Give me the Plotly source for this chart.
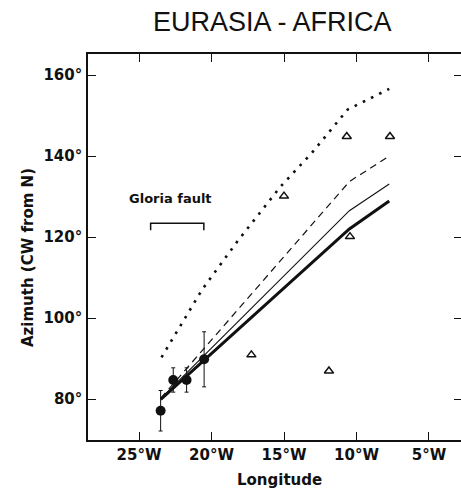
import plotly.graph_objects as go

# ---- data (longitude as negative = degrees West) ----
obs_lon = [-23.51, -22.64, -21.72, -20.51]
obs_az = [77.1, 84.7, 84.7, 89.8]
obs_err = [5.0, 3.0, 3.0, 6.8]

tri_lon = [-10.67, -7.69, -15.0, -10.45, -17.25, -11.9]
tri_az = [144.8, 144.8, 130.1, 120.1, 90.9, 86.9]

thick_lon = [-23.5, -10.49, -7.74]
thick_az = [79.9, 122.0, 128.9]

thin_lon = [-23.5, -10.49, -7.74]
thin_az = [80.1, 126.5, 133.1]

dash_lon = [-23.5, -10.49, -7.74]
dash_az = [80.2, 133.7, 140.0]

dot_lon = [-23.45, -20.65, -18.2, -15.25, -13.1, -10.6, -9.18, -7.74]
dot_az = [90.3, 107.0, 119.0, 132.4, 140.7, 151.5, 154.0, 156.6]

gloria_lon = [-24.2, -24.2, -20.53, -20.53]
gloria_az = [121.7, 123.4, 123.4, 121.7]

x_ticks = [-25, -20, -15, -10, -5]
x_labels = ["25°W", "20°W", "15°W", "10°W", "5°W"]
y_ticks = [80, 100, 120, 140, 160]
y_labels = ["80°", "100°", "120°", "140°", "160°"]

INK = "#111111"
FONT = "DejaVu Sans"

fig = go.Figure()

fig.add_trace(go.Scatter(x=dot_lon, y=dot_az, mode="lines",
                         line=dict(color=INK, width=2.6, dash="2.6px,6.5px"),
                         showlegend=False, hoverinfo="skip"))
fig.add_trace(go.Scatter(x=dash_lon, y=dash_az, mode="lines",
                         line=dict(color=INK, width=1.2, dash="7px,5px"),
                         showlegend=False, hoverinfo="skip"))
fig.add_trace(go.Scatter(x=thin_lon, y=thin_az, mode="lines",
                         line=dict(color=INK, width=1.1),
                         showlegend=False, hoverinfo="skip"))
fig.add_trace(go.Scatter(x=thick_lon, y=thick_az, mode="lines",
                         line=dict(color=INK, width=3),
                         showlegend=False, hoverinfo="skip"))
fig.add_trace(go.Scatter(x=obs_lon, y=obs_az, mode="markers",
                         marker=dict(color=INK, size=10, symbol="circle"),
                         error_y=dict(type="data", array=obs_err, visible=True,
                                      color=INK, thickness=1, width=2),
                         showlegend=False))
fig.add_trace(go.Scatter(x=tri_lon, y=tri_az, mode="markers",
                         marker=dict(symbol="triangle-up-open", size=8,
                                     color=INK, line=dict(width=1.5, color=INK)),
                         showlegend=False))
fig.add_trace(go.Scatter(x=gloria_lon, y=gloria_az, mode="lines",
                         line=dict(color=INK, width=1.5),
                         showlegend=False, hoverinfo="skip"))
# invisible trace to activate right-side tick axis
fig.add_trace(go.Scatter(x=[obs_lon[0]], y=[obs_az[0]], yaxis="y2", mode="markers",
                         marker=dict(opacity=0), showlegend=False, hoverinfo="skip"))

yr = [69.88, 165.19]
fig.update_layout(
    width=461, height=491,
    margin=dict(l=88, r=0, t=54, b=51),
    paper_bgcolor="white", plot_bgcolor="white",
    xaxis=dict(range=[-28.52, -2.79], tickvals=x_ticks, ticktext=x_labels,
               ticks="inside", ticklen=8, tickwidth=1.2, tickcolor=INK,
               showline=True, linecolor=INK, linewidth=1.5, mirror="ticks",
               showgrid=False, zeroline=False,
               tickfont=dict(family=FONT, size=15, color=INK, weight="bold"),
               ticklabelstandoff=0),
    yaxis=dict(range=yr, tickvals=y_ticks, ticktext=y_labels,
               ticks="inside", ticklen=8, tickwidth=1.2, tickcolor=INK,
               showline=True, linecolor=INK, linewidth=1.5,
               showgrid=False, zeroline=False,
               tickfont=dict(family=FONT, size=15, color=INK, weight="bold"),
               ticklabelstandoff=1),
    yaxis2=dict(range=yr, overlaying="y", side="right", tickvals=y_ticks,
                ticks="inside", ticklen=7, tickwidth=1.2, tickcolor=INK,
                showticklabels=False, showline=False, showgrid=False,
                zeroline=False),
)

# annotations positioned in pixels, converted to paper fractions
pw, ph = 461 - 88, 491 - 54 - 51
def px(x):
    return (x - 88) / pw
def py(y):
    return (491 - y - 51) / ph

fig.add_annotation(text="EURASIA - AFRICA", x=px(272), y=py(22.5), xref="paper", yref="paper",
                   xanchor="center", yanchor="middle", showarrow=False,
                   font=dict(family="Liberation Sans", size=27, color=INK))
fig.add_annotation(text="Longitude", x=px(279), y=py(480), xref="paper", yref="paper",
                   xanchor="center", yanchor="middle", showarrow=False,
                   font=dict(family=FONT, size=15, color=INK, weight="bold"))
fig.add_annotation(text="Azimuth (CW from N)", x=px(28), y=py(258), xref="paper", yref="paper",
                   xanchor="center", yanchor="middle", textangle=-90, showarrow=False,
                   font=dict(family=FONT, size=15, color=INK, weight="bold"))
fig.add_annotation(text="Gloria fault", x=-22.8, y=129.6, xref="x", yref="y",
                   xanchor="center", yanchor="middle", showarrow=False,
                   font=dict(family=FONT, size=13, color=INK, weight="bold"))

fig.write_html("out.html")
